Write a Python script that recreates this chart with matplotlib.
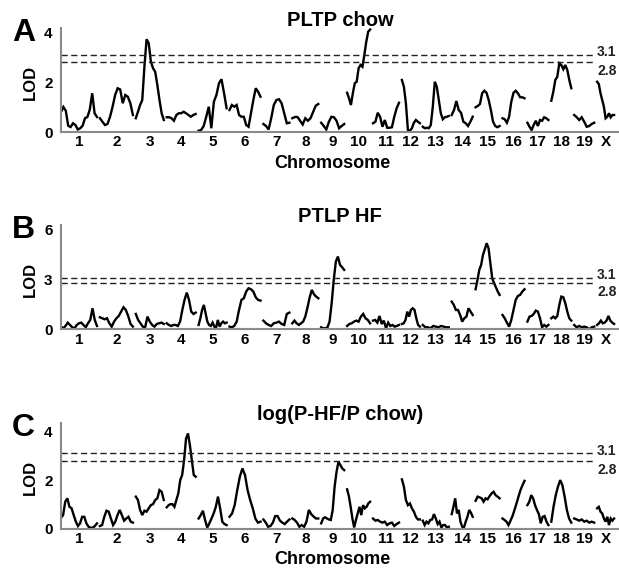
import numpy as np
import matplotlib
matplotlib.use('Agg')
import matplotlib.pyplot as plt

plt.rcParams['font.family'] = ['Liberation Sans', 'DejaVu Sans']
plt.rcParams['font.weight'] = 'bold'

chrom_names = ['1', '2', '3', '4', '5', '6', '7', '8', '9', '10',
               '11', '12', '13', '14', '15', '16', '17', '18', '19', 'X']
# approximate map length of each chromosome (cM scale of the figure)
chrom_len = [36, 33, 28, 29, 28, 31, 26, 26, 23, 23,
             26, 18, 26, 21, 24, 22, 21, 20, 20, 17]

thresholds = [3.1, 2.8]
threshold_labels = ['3.1', '2.8']

# LOD profiles, one list per chromosome
lod_chow = [
    [0.8, 1.0, 0.85, 0.25, 0.2, 0.35, 0.28, 0.1, 0.15, 0.25, 0.55, 0.6, 0.9, 1.55, 0.75, 0.6],
    [0.55, 0.41, 0.28, 0.32, 0.61, 1.01, 1.48, 1.75, 1.7, 1.15, 1.48, 1.41, 1.15, 0.68],
    [0.55, 0.81, 1.08, 1.28, 2.61, 3.71, 3.55, 2.81, 2.55, 2.41, 1.88, 1.28, 0.75, 0.48],
    [0.59, 0.59, 0.55, 0.45, 0.68, 0.75, 0.75, 0.81, 0.75, 0.68, 0.61, 0.68, 0.72],
    [0.05, 0.08, 0.24, 0.61, 1.01, 0.15, 1.21, 1.48, 1.95, 2.11, 1.55, 0.95],
    [0.88, 1.08, 1.01, 1.08, 0.68, 0.61, 0.61, 0.28, 0.21, 0.75, 1.28, 1.75, 1.61, 1.41],
    [0.32, 0.24, 0.1, 0.55, 1.08, 1.28, 1.31, 1.15, 0.75, 0.35, 0.37],
    [0.55, 0.6, 0.6, 0.45, 0.3, 0.55, 0.45, 0.55, 0.8, 1.05, 1.12],
    [0.37, 0.24, 0.1, 0.41, 0.61, 0.59, 0.45, 0.15, 0.24, 0.32],
    [1.57, 1.35, 1.08, 1.55, 1.95, 2.01, 2.55, 2.68, 2.61, 3.08, 3.61, 4.01, 4.1],
    [0.35, 0.41, 0.77, 0.61, 0.21, 0.48, 0.17, 0.17, 0.19, 0.61, 0.95, 1.17],
    [2.08, 1.81, 1.15, 0.08, 0.05, 0.15, 0.37, 0.48, 0.41, 0.35],
    [0.21, 0.15, 0.17, 0.15, 0.28, 1.01, 2.01, 1.81, 1.28, 0.75, 0.51, 0.59, 0.61, 0.64],
    [0.68, 0.88, 1.24, 0.88, 0.77, 0.41, 0.35, 0.24, 0.41, 0.61],
    [0.99, 1.04, 1.12, 1.55, 1.65, 1.57, 1.28, 0.88, 0.41, 0.24, 0.19, 0.24],
    [0.55, 0.51, 0.37, 0.61, 1.21, 1.57, 1.65, 1.55, 1.39, 1.39, 1.35],
    [0.37, 0.21, 0.08, 0.28, 0.45, 0.24, 0.48, 0.45, 0.59, 0.55, 0.48],
    [1.25, 1.61, 2.08, 2.21, 2.75, 2.68, 2.51, 2.68, 2.48, 2.08, 1.75],
    [0.68, 0.59, 0.48, 0.59, 0.41, 0.21, 0.24, 0.32, 0.37],
    [2.01, 1.92, 1.55, 1.28, 1.01, 0.55, 0.61, 0.75, 0.59, 0.68, 0.68],
]

lod_hf = [
    [0.16, 0.06, 0.2, 0.4, 0.26, 0.12, 0.06, 0.26, 0.36, 0.4, 0.26, 0.12, 0.36, 0.56, 1.26, 0.56, 0.2],
    [0.72, 0.66, 0.6, 0.66, 0.36, 0.16, 0.46, 0.66, 0.8, 1.06, 1.32, 1.16, 0.8, 0.32, 0.16],
    [0.92, 0.56, 0.36, 0.16, 0.12, 0.76, 0.46, 0.26, 0.16, 0.32, 0.36, 0.4, 0.32],
    [0.36, 0.26, 0.2, 0.26, 0.26, 0.2, 0.46, 1.16, 1.76, 2.2, 1.76, 1.06, 0.92, 1.0],
    [0.26, 0.66, 1.16, 1.46, 0.96, 0.46, 0.26, 0.2, 0.4, 0.16, 0.12, 0.56, 0.16, 0.36, 0.46, 0.36, 0.4],
    [0.16, 0.12, 0.2, 0.46, 1.16, 1.76, 1.86, 2.26, 2.46, 2.4, 2.26, 1.92, 1.76, 1.72],
    [0.52, 0.36, 0.26, 0.2, 0.36, 0.4, 0.46, 0.32, 0.26, 0.92, 1.0],
    [0.36, 0.52, 0.36, 0.26, 0.36, 0.46, 0.76, 1.3, 1.9, 2.36, 2.1, 1.96, 1.86],
    [0.12, 0.06, 0.06, 0.12, 0.46, 1.56, 2.96, 4.06, 4.36, 3.86, 3.72, 3.56],
    [0.2, 0.32, 0.36, 0.46, 0.52, 0.46, 0.76, 0.92, 0.66, 0.56, 0.36],
    [0.52, 0.56, 0.4, 0.8, 0.32, 0.52, 0.06, 0.4, 0.2, 0.26, 0.16, 0.2, 0.26],
    [0.32, 0.36, 0.56, 1.06, 0.76, 1.16, 1.26, 1.16, 0.66, 0.26, 0.16],
    [0.26, 0.12, 0.12, 0.06, 0.2, 0.16, 0.12, 0.2, 0.16, 0.12, 0.12],
    [1.66, 1.46, 1.16, 1.16, 0.86, 0.46, 0.66, 0.76, 1.26, 1.06, 0.86],
    [2.4, 2.96, 3.56, 3.86, 4.46, 4.8, 5.16, 4.86, 3.96, 3.06, 2.76, 2.52, 2.26, 2.06],
    [0.86, 0.66, 0.4, 0.16, 0.56, 1.16, 1.76, 2.0, 2.06, 2.26, 2.4],
    [0.46, 0.76, 0.8, 0.92, 1.12, 1.06, 0.66, 0.12, 0.26, 0.16, 0.26],
    [0.66, 0.76, 0.66, 0.8, 1.46, 1.96, 1.92, 1.56, 1.06, 0.66, 0.52],
    [0.26, 0.12, 0.2, 0.12, 0.16, 0.12, 0.0, 0.12, 0.16],
    [0.26, 0.36, 0.52, 0.36, 0.4, 0.52, 0.8, 0.52, 0.4, 0.32],
]

lod_ratio = [
    [0.45, 0.56, 1.11, 1.25, 0.9, 0.84, 0.56, 0.29, 0.11, 0.22, 0.49, 0.49, 0.22, 0.08, 0.04, 0.04, 0.11, 0.22],
    [0.11, 0.15, 0.49, 0.74, 0.7, 0.42, 0.15, 0.29, 0.56, 0.77, 0.56, 0.33, 0.42, 0.49, 0.29, 0.25],
    [1.32, 1.18, 0.77, 0.56, 0.74, 0.7, 0.84, 0.97, 1.01, 1.18, 1.25, 1.59, 1.52, 1.18],
    [0.88, 0.97, 1.01, 1.01, 0.9, 1.18, 1.45, 2.0, 2.21, 2.82, 3.71, 3.92, 3.44, 2.82, 2.21, 2.14],
    [0.42, 0.56, 0.74, 0.36, 0.05, 0.22, 0.42, 0.63, 0.9, 1.32, 0.84, 0.29, 0.19, 0.15],
    [0.49, 0.63, 0.97, 1.59, 2.14, 2.48, 2.21, 1.59, 1.18, 0.84, 0.42, 0.25, 0.29],
    [0.38, 0.25, 0.08, 0.11, 0.25, 0.52, 0.52, 0.33, 0.25, 0.19, 0.29, 0.38],
    [0.42, 0.36, 0.25, 0.08, 0.15, 0.08, 0.29, 0.77, 0.6, 0.5, 0.42, 0.42],
    [0.22, 0.42, 0.47, 0.42, 0.38, 0.36, 0.77, 1.73, 2.34, 2.75, 2.62, 2.48, 2.41],
    [1.62, 1.34, 0.9, 0.42, 0.05, 0.36, 0.63, 0.9, 0.56, 0.97, 0.84, 0.9, 1.04, 1.11],
    [0.42, 0.33, 0.36, 0.29, 0.25, 0.29, 0.15, 0.22, 0.25, 0.11, 0.19, 0.25],
    [2.03, 1.73, 1.18, 0.97, 1.04, 0.84, 0.7, 0.49, 0.38, 0.38],
    [0.33, 0.15, 0.29, 0.22, 0.36, 0.38, 0.6, 0.42, 0.19, 0.29, 0.05, 0.15, 0.15, 0.05, 0.08],
    [0.6, 0.9, 1.25, 0.63, 0.77, 0.29, 0.08, 0.05, 0.29, 0.49, 0.77, 0.66, 0.49],
    [1.15, 1.32, 1.29, 1.25, 1.11, 1.25, 1.21, 1.34, 1.45, 1.52, 1.38, 1.32, 1.25],
    [0.42, 0.36, 0.29, 0.15, 0.33, 0.52, 0.77, 1.04, 1.32, 1.59, 1.79, 1.97],
    [0.97, 1.11, 1.38, 1.25, 0.97, 0.77, 0.6, 0.22, 0.49, 0.52, 0.29, 0.15],
    [0.29, 0.9, 1.38, 1.73, 2.0, 1.79, 1.32, 0.77, 0.42, 0.25],
    [0.42, 0.38, 0.33, 0.38, 0.29, 0.33, 0.25, 0.29, 0.25],
    [0.84, 0.9, 0.7, 0.63, 0.42, 0.29, 0.49, 0.15, 0.42, 0.33, 0.42],
]

W, H = 619, 571
gap = 2.9
starts = np.concatenate([[0], np.cumsum(np.array(chrom_len[:-1]) + gap)])
centers = starts + np.array(chrom_len) / 2

fig = plt.figure(figsize=(W / 100, H / 100), dpi=100)

# (letter, title, data, yticks, ytop, axis top px, axis bottom px, show xlabel)
panels = [
    ('A', 'PLTP chow', lod_chow, [0, 2, 4], 4.16, 28, 132, True),
    ('B', 'PTLP HF', lod_hf, [0, 3, 6], 6.25, 225, 329.3, False),
    ('C', 'log(P-HF/P chow)', lod_ratio, [0, 2, 4], 4.35, 423, 528.7, True),
]

grey = '#8a8a8a'
for letter, title, lod, yticks, ytop, top_px, bot_px, xlab in panels:
    ax = fig.add_axes([61 / W, 1 - bot_px / H, (W - 61) / W, (bot_px - top_px) / H])
    for i, vals in enumerate(lod):
        x = np.linspace(starts[i], starts[i] + chrom_len[i], len(vals))
        ax.plot(x, vals, color='black', lw=1.7, solid_joinstyle='miter')
    for t in thresholds:
        ax.axhline(t, xmin=0, xmax=534 / 558, color='#222222', lw=1.0, dashes=(4.5, 2.5))
    ax.annotate(threshold_labels[0], (536, thresholds[0]), xytext=(0, 1.5),
                textcoords='offset points', fontsize=10, fontweight='bold',
                color='#222222', ha='left', va='center')
    ax.annotate(threshold_labels[1], (536, thresholds[1]), xytext=(0, -1.5),
                textcoords='offset points', fontsize=10, fontweight='bold',
                color='#222222', ha='left', va='top')
    ax.set_xlim(0, 558)
    ax.set_ylim(0, ytop)
    ax.set_yticks(yticks)
    ax.set_yticklabels([str(v) for v in yticks], fontsize=11, fontweight='bold')
    ax.set_xticks(centers)
    ax.set_xticklabels(chrom_names, fontsize=11, fontweight='bold')
    ax.tick_params(length=0)
    ax.tick_params(axis='y', pad=6)
    ax.tick_params(axis='x', pad=2.5)
    for s in ['top', 'right']:
        ax.spines[s].set_visible(False)
    for s in ['left', 'bottom']:
        ax.spines[s].set_color(grey)
        ax.spines[s].set_linewidth(1.5)
    ax.set_facecolor('none')

    mid = (top_px + bot_px) / 2
    fig.text(30 / W, 1 - (mid + 2) / H, 'LOD', rotation=90, fontsize=12, fontweight='bold',
             ha='center', va='center')
    fig.text(23.5 / W, 1 - (top_px + 5) / H, letter, fontsize=23, fontweight='bold',
             ha='center', va='center')
    fig.text(340 / W, 1 - (top_px - 8) / H, title, fontsize=14.5, fontweight='bold',
             ha='center', va='center')
    if xlab:
        fig.text(332 / W, 1 - (bot_px + 31) / H, 'Chromosome', fontsize=13,
                 fontweight='bold', ha='center', va='center')

fig.savefig('out.png', dpi=100)
